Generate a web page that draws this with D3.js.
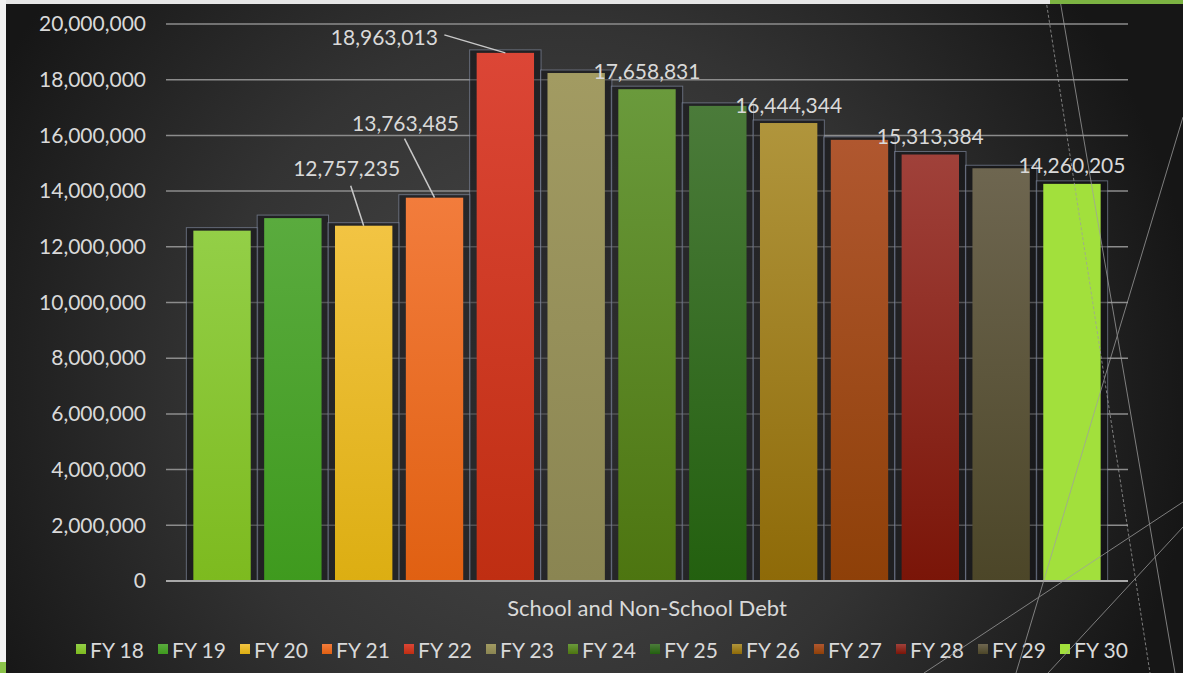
<!DOCTYPE html>
<html>
<head>
<meta charset="utf-8">
<script src="https://cdn.jsdelivr.net/npm/d3@7"></script>
<style>
  body { margin: 0; background: #fff; }
  svg { display: block; }
  text { font-family: Lato, "Open Sans", sans-serif; fill: #d9d9d9; }
</style>
</head>
<body>
<svg id="chart"></svg>
<script>
// chart data
const category = 'School and Non-School Debt';
const seriesNames = ['FY 18', 'FY 19', 'FY 20', 'FY 21', 'FY 22', 'FY 23', 'FY 24',
  'FY 25', 'FY 26', 'FY 27', 'FY 28', 'FY 29', 'FY 30'];
const seriesValues = [12580000, 13030000, 12757235, 13763485, 18963013, 18240000, 17658831,
  17060000, 16444344, 15840000, 15313384, 14820000, 14260205];
const yTicks = [0, 2000000, 4000000, 6000000, 8000000, 10000000, 12000000,
  14000000, 16000000, 18000000, 20000000];
// series shown with a data label
const labelledSeries = ['FY 20', 'FY 21', 'FY 22', 'FY 24', 'FY 26', 'FY 28', 'FY 30'];

// bar colours, top and bottom of the gradient
const topColors = ['#93cf47', '#5aab3e', '#f2c443', '#f27c3c', '#dc4636', '#a29b62', '#6a9a3c',
  '#4b7b3a', '#b0953c', '#b0572f', '#a0413a', '#6e6650', '#a2e03c'];
const bottomColors = ['#7dba1f', '#3f9a1e', '#dcae12', '#e06012', '#bf2e12', '#8a8552', '#4d7510',
  '#23600f', '#8e6a08', '#8e4008', '#7a1508', '#4c4628', '#a2e03c'];

const W = 1183, H = 673;
const margin = { top: 24, right: 55, bottom: 92, left: 166 };

const svg = d3.select('#chart').attr('width', W).attr('height', H);
const defs = svg.append('defs');

// slide background
const bg = defs.append('radialGradient').attr('id', 'bg')
  .attr('gradientUnits', 'userSpaceOnUse')
  .attr('cx', 560).attr('cy', 380).attr('r', 640);
bg.append('stop').attr('offset', '0%').attr('stop-color', '#4a4a4a');
bg.append('stop').attr('offset', '55%').attr('stop-color', '#333333');
bg.append('stop').attr('offset', '100%').attr('stop-color', '#161616');
svg.append('rect').attr('width', W).attr('height', H).attr('fill', 'url(#bg)');

seriesNames.forEach((s, i) => {
  const g = defs.append('linearGradient').attr('id', 'grad' + i)
    .attr('x1', 0).attr('y1', 0).attr('x2', 0).attr('y2', 1);
  g.append('stop').attr('offset', '0%').attr('stop-color', topColors[i]);
  g.append('stop').attr('offset', '100%').attr('stop-color', bottomColors[i]);
});

const x0 = d3.scaleBand()
  .domain([category])
  .range([margin.left, W - margin.right])
  .paddingOuter(0.0224);

const x1 = d3.scaleBand()
  .domain(seriesNames)
  .range([0, x0.bandwidth()])
  .paddingInner(0.19)
  .paddingOuter(0.095);

const y = d3.scaleLinear()
  .domain([0, 20000000])
  .range([H - margin.bottom, margin.top]);

const fmt = d3.format(',');

// gridlines
svg.append('g')
  .selectAll('line')
  .data(yTicks.filter(d => d > 0))
  .enter().append('line')
  .attr('x1', margin.left).attr('x2', W - margin.right)
  .attr('y1', d => y(d)).attr('y2', d => y(d))
  .attr('stroke', '#8c8c8c').attr('stroke-width', 1.5);

// y axis labels
const yAxis = svg.append('g')
  .attr('transform', `translate(${margin.left - 20},0)`)
  .call(d3.axisLeft(y).tickValues(yTicks).tickFormat(fmt).tickSize(0).tickPadding(0));
yAxis.select('.domain').remove();
yAxis.selectAll('text')
  .style('font-size', '21px')
  .style('font-family', 'Lato, sans-serif')
  .attr('fill', '#d9d9d9');

// bars
const barG = svg.append('g').attr('transform', `translate(${x0(category)},0)`);

barG.selectAll('.frame')
  .data(seriesNames)
  .enter().append('rect')
  .attr('class', 'frame')
  .attr('x', d => x1(d) - 7)
  .attr('y', (d, i) => y(seriesValues[i]) - 3)
  .attr('width', x1.bandwidth() + 14)
  .attr('height', (d, i) => y(0) - y(seriesValues[i]) + 3)
  .attr('fill', 'rgba(12,12,16,0.45)')
  .attr('stroke', 'rgba(150,160,185,0.55)')
  .attr('stroke-width', 1);

barG.selectAll('.bar')
  .data(seriesNames)
  .enter().append('rect')
  .attr('class', 'bar')
  .attr('x', d => x1(d))
  .attr('y', (d, i) => y(seriesValues[i]))
  .attr('width', x1.bandwidth())
  .attr('height', (d, i) => y(0) - y(seriesValues[i]))
  .attr('fill', (d, i) => `url(#grad${i})`);

// x axis baseline
svg.append('line')
  .attr('x1', margin.left).attr('x2', W - margin.right)
  .attr('y1', y(0)).attr('y2', y(0))
  .attr('stroke', '#a8a8a8').attr('stroke-width', 2);

// data labels, some moved off the bar with a leader line
const labelMoves = {
  'FY 20': { dx: -17, dy: -58, lx: 4, ly: 18 },
  'FY 21': { dx: -29, dy: -75, lx: -1, ly: 16 },
  'FY 22': { dx: -121, dy: -16, lx: 60, ly: -2 }
};
labelledSeries.forEach(s => {
  const i = seriesNames.indexOf(s);
  const cx = x0(category) + x1(s) + x1.bandwidth() / 2;
  const top = y(seriesValues[i]);
  const mv = labelMoves[s] || { dx: 0, dy: -19 };
  const lxc = cx + mv.dx, lyc = top + mv.dy;
  if (mv.lx !== undefined) {
    svg.append('line')
      .attr('x1', lxc + mv.lx).attr('y1', lyc + mv.ly)
      .attr('x2', cx).attr('y2', top)
      .attr('stroke', '#c8c8c8').attr('stroke-width', 1.5);
  }
  svg.append('text')
    .attr('x', lxc).attr('y', lyc)
    .attr('text-anchor', 'middle')
    .attr('dominant-baseline', 'central')
    .style('font-size', '21px')
    .text(fmt(seriesValues[i]));
});

// category axis title
svg.append('text')
  .attr('x', x0(category) + x0.bandwidth() / 2)
  .attr('y', 607)
  .attr('text-anchor', 'middle')
  .attr('dominant-baseline', 'central')
  .style('font-size', '22px')
  .text(category);

// legend
const legend = svg.append('g').attr('transform', 'translate(76,649)');
const item = legend.selectAll('g')
  .data(seriesNames)
  .enter().append('g')
  .attr('transform', (d, i) => `translate(${i * 82},0)`);
item.append('rect')
  .attr('x', 0).attr('y', -5).attr('width', 10).attr('height', 10)
  .attr('fill', (d, i) => `url(#grad${i})`);
item.append('text')
  .attr('x', 14).attr('y', 0)
  .attr('dominant-baseline', 'central')
  .style('font-size', '21px')
  .text(d => d);

// slide decoration
const deco = svg.append('g').attr('fill', 'none').attr('stroke', '#a0a0a0').attr('stroke-width', 1).attr('opacity', 0.75);
deco.append('line').attr('x1', 1046).attr('y1', 0).attr('x2', 1150).attr('y2', 673).attr('stroke-dasharray', '3,2');
deco.append('line').attr('x1', 1060).attr('y1', 0).attr('x2', 1175).attr('y2', 673);
deco.append('line').attr('x1', 1183).attr('y1', 117).attr('x2', 1016).attr('y2', 673);
deco.append('line').attr('x1', 1183).attr('y1', 502).attr('x2', 924).attr('y2', 673);
deco.append('line').attr('x1', 1183).attr('y1', 527).attr('x2', 1048).attr('y2', 673);

svg.append('rect').attr('x', 0).attr('y', 0).attr('width', W).attr('height', 4).attr('fill', '#e6e6e6');
svg.append('rect').attr('x', 1050).attr('y', 0).attr('width', W - 1050).attr('height', 4).attr('fill', '#7cb342');
svg.append('rect').attr('x', 0).attr('y', 0).attr('width', 6).attr('height', H).attr('fill', '#f2f2f2');
svg.append('rect').attr('x', 0).attr('y', 662).attr('width', 6).attr('height', 11).attr('fill', '#8bc34a');
</script>
</body>
</html>
